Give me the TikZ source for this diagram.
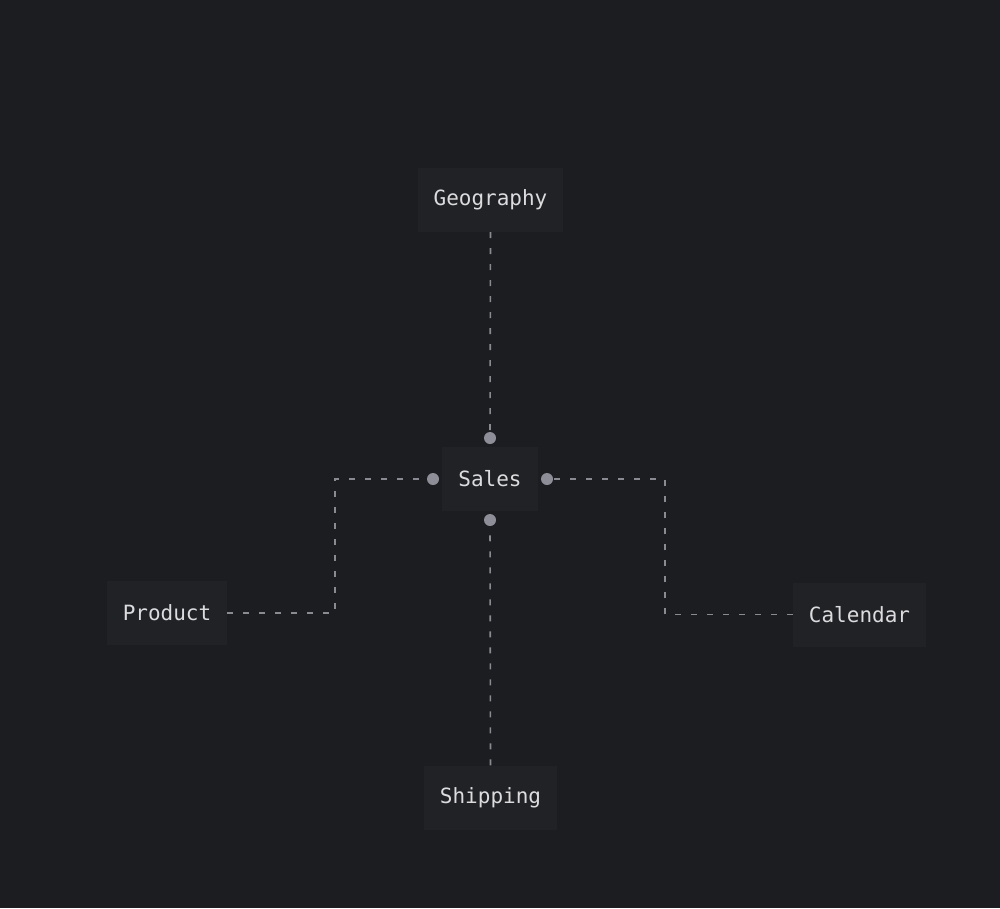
\documentclass[tikz,border=0pt]{standalone}
\usepackage{fontspec}
\setmonofont{DejaVu Sans Mono}
\usepackage{tikz}
\definecolor{bgdark}{RGB}{28,29,33}
\definecolor{boxfill}{RGB}{33,34,38}
\definecolor{labelgray}{RGB}{220,220,222}
\definecolor{linkgray}{RGB}{138,138,146}
\definecolor{dotgray}{RGB}{142,142,153}
\pgfdeclarelayer{bglayer}
\pgfdeclarelayer{edgelayer}
\pgfdeclarelayer{nodelayer}
\pgfsetlayers{bglayer,edgelayer,nodelayer,main}
\tikzstyle{table}=[rectangle,fill=boxfill,text=labelgray,inner xsep=16pt,inner ysep=0pt,minimum height=64pt,font=\ttfamily\fontsize{21}{25}\selectfont]
\tikzstyle{port}=[circle,fill=dotgray,inner sep=0pt,minimum size=12pt]
\tikzstyle{link}=[linkgray,line width=1.6pt,dash pattern=on 6pt off 10pt]

\begin{document}
\begin{tikzpicture}[x=1pt,y=-1pt]
        \begin{pgfonlayer}{bglayer}
            \fill [bgdark] (0, 0) rectangle (1000, 908);
        \end{pgfonlayer}
        \useasboundingbox (0, 0) rectangle (1000, 908);

        \begin{pgfonlayer}{nodelayer}
            \node [style = table] (geography) at (490.5, 200) {Geography};
            \node [style = table] (sales) at (490, 479) {Sales};
            \node [style = table] (product) at (167, 613) {Product};
            \node [style = table] (calendar) at (859.5, 614.5) {Calendar};
            \node [style = table] (shipping) at (490.5, 797.5) {Shipping};

            \node [style = port] (salesN) at (490, 438) {};
            \node [style = port] (salesW) at (433, 479) {};
            \node [style = port] (salesE) at (547, 479) {};
            \node [style = port] (salesS) at (490, 520) {};
        \end{pgfonlayer}

        \coordinate (pturn) at (335, 479);
        \coordinate (cturn) at (665, 479);

        \begin{pgfonlayer}{edgelayer}
            \draw [style = link] (geography.south) to (salesN);
            \draw [style = link] (shipping.north) to (salesS);
            \draw [style = link] (product.east) -| (pturn) -- (salesW);
            \draw [style = link] (calendar.west) -| (cturn) -- (salesE);
        \end{pgfonlayer}
    \end{tikzpicture}
\end{document}
